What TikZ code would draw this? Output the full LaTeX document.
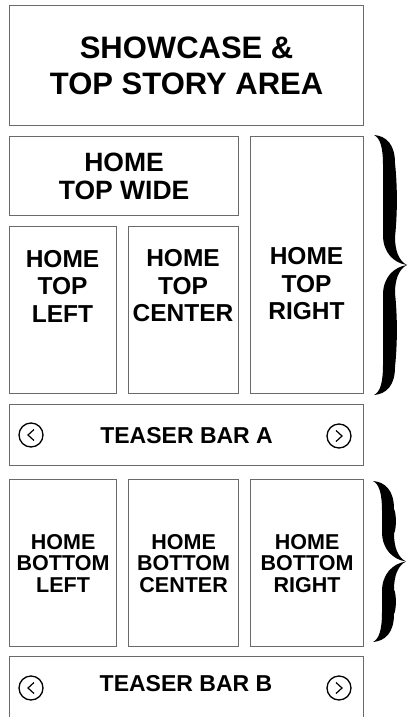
\documentclass[tikz,border=0pt]{standalone}
\usepackage{fontspec}
\setmainfont{Liberation Sans}
\usepackage{xcolor}
\usetikzlibrary{calc}

\definecolor{boxgray}{HTML}{6A6A6A}

% upper half of a right-pointing curly brace, top end at (0,0), tip at (33,#1)
\newcommand\halfbrace[1]{%
  (33,#1) .. controls (25,#1-4) and (21,#1-14) .. (21,#1-28)
  .. controls (23.5,0.6*#1) and (23.5,0.4*#1) .. (21,28)
  .. controls (21,9) and (12,1) .. (0,0)
  .. controls (6,3) and (9,12) .. (9,30)
  -- (9,#1-30) .. controls (9,#1-12) and (20,#1-2) .. (33,#1) -- cycle}

\begin{document}
\begin{tikzpicture}[
    x=1pt, y=-1pt,
    box/.style={draw=boxgray, line width=1.2pt, anchor=north west, inner sep=0pt, align=center},
    showtxt/.style={font=\fontsize{31}{36}\selectfont\bfseries},
    widetxt/.style={font=\fontsize{26.5}{28}\selectfont\bfseries},
    toptxt/.style={align=center, inner sep=0pt, font=\fontsize{24.5}{27.5}\selectfont\bfseries},
    bottxt/.style={font=\fontsize{21.5}{21.5}\selectfont\bfseries},
    bartxt/.style={inner sep=0pt, font=\fontsize{23}{25}\selectfont\bfseries},
    btn/.style={circle, draw=black, line width=1.3pt, minimum size=24pt, inner sep=0pt},
    chev/.style={line width=1.2pt, line join=miter}
  ]
    \path[use as bounding box] (0,0) rectangle (409,717);
    \clip (0,0) rectangle (409,717);

    % top area
    \node[box, showtxt, minimum width=354pt, minimum height=120pt] (showcase) at (9,5) {SHOWCASE \&\\TOP STORY AREA};
    \node[box, widetxt, minimum width=229pt, minimum height=79pt] (topwide) at (9,136) {HOME\\TOP WIDE};
    \node[box, minimum width=107pt, minimum height=167pt] (topleft) at (9,226) {};
    \node[box, minimum width=110pt, minimum height=167pt] (topcenter) at (128,226) {};
    \node[box, minimum width=113pt, minimum height=257pt] (topright) at (250,136) {};
    \node[toptxt] (topleftlab) at (62.5,286) {HOME\\TOP\\LEFT};
    \node[toptxt] (topcenterlab) at (183,286) {HOME\\TOP\\CENTER};
    \node[toptxt] (toprightlab) at (306.5,284) {HOME\\TOP\\RIGHT};

    % teaser bar A
    \node[box, bartxt, minimum width=354pt, minimum height=61pt] (bara) at (9,404) {TEASER BAR A};
    \node[btn] (baraprev) at (31,435) {};
    \node[btn] (baranext) at (339,436) {};

    % bottom area
    \node[box, bottxt, minimum width=107pt, minimum height=167pt] (botleft) at (9,479) {HOME\\BOTTOM\\LEFT};
    \node[box, bottxt, minimum width=110pt, minimum height=167pt] (botcenter) at (128,479) {HOME\\BOTTOM\\CENTER};
    \node[box, bottxt, minimum width=113pt, minimum height=167pt] (botright) at (250,479) {HOME\\BOTTOM\\RIGHT};

    % teaser bar B
    \node[box, minimum width=354pt, minimum height=80pt] (barb) at (9,656) {};
    \node[bartxt] (barblab) at (186,684) {TEASER BAR B};
    \node[btn] (barbprev) at (31,688) {};
    \node[btn] (barbnext) at (339,688) {};

    % chevrons
    \foreach \b in {baraprev,barbprev}
      \draw[chev] ($(\b.center)+(3,-5.5)$) -- ++(-6,5.5) -- ++(6,5.5);
    \foreach \b in {baranext,barbnext}
      \draw[chev] ($(\b.center)+(-3,-5.5)$) -- ++(6,5.5) -- ++(-6,5.5);

    % braces
    \fill[shift={(374,135)}] \halfbrace{130};
    \fill[shift={(374,395)}, yscale=-1] \halfbrace{130};
    \fill[shift={(373,481)}] \halfbrace{80.5};
    \fill[shift={(373,642)}, yscale=-1] \halfbrace{80.5};
\end{tikzpicture}
\end{document}
